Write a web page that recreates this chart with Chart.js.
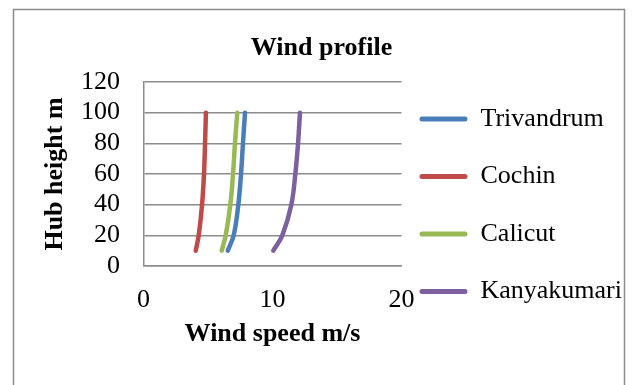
<!DOCTYPE html>
<html>
<head>
<meta charset="utf-8">
<script src="https://cdn.jsdelivr.net/npm/chart.js@4"></script>
<style>
  body { margin: 0; background: #fff; }
</style>
</head>
<body>
<canvas id="windChart" width="633" height="385"></canvas>
<script>
heights = [10, 20, 40, 60, 80, 100]

trivandrum = [6.53, 6.99, 7.35, 7.56, 7.71, 7.87]
cochin = [4.05, 4.28, 4.54, 4.69, 4.77, 4.84]
calicut = [6.06, 6.37, 6.73, 6.94, 7.09, 7.27]
kanyakumari = [10.06, 10.76, 11.46, 11.77, 11.98, 12.13]

// wind speed on x, hub height on y
function points(speeds) {
    return speeds.map((v, i) => ({ x: v, y: heights[i] }))
}

function line(label, speeds, color) {
    return {
        label: label,
        data: points(speeds),
        borderColor: color,
        backgroundColor: color,
        borderWidth: 4.5,
        borderCapStyle: 'round',
        showLine: true,
        pointRadius: 0,
        tension: 0.4
    }
}

const serif = 'Liberation Serif, Times New Roman, serif'
const gridGray = '#8c8c8c'

// outer frame around the whole chart
const frame = {
    id: 'frame',
    beforeDraw(chart) {
        const ctx = chart.ctx
        ctx.save()
        ctx.strokeStyle = gridGray
        ctx.lineWidth = 1.5
        ctx.strokeRect(13.5, 9.5, 611, 400)
        ctx.restore()
    }
}

let windChart = new Chart(document.getElementById('windChart'), {
    type: 'scatter',
    data: {
        datasets: [
            line('Trivandrum', trivandrum, '#4a7ebb'),
            line('Cochin', cochin, '#be4b48'),
            line('Calicut', calicut, '#98b954'),
            line('Kanyakumari', kanyakumari, '#7d60a0')
        ]
    },
    options: {
        responsive: false,
        animation: false,
        layout: { padding: { left: 11, right: 1, top: 0, bottom: 0 } },
        scales: {
            x: {
                min: 0,
                max: 20,
                ticks: { stepSize: 10, padding: 21.3, color: '#000', font: { family: serif, size: 26, lineHeight: 1 } },
                grid: { display: false, drawTicks: false },
                border: { display: true, color: gridGray, width: 1.5 },
                title: {
                    display: true,
                    text: 'Wind speed m/s',
                    color: '#000',
                    font: { family: serif, size: 26, weight: 'bold', lineHeight: 1 },
                    padding: { top: -13.3, bottom: 37.7 }
                }
            },
            y: {
                min: 0,
                max: 120,
                ticks: { stepSize: 20, autoSkip: false, padding: 23.5, color: '#000', font: { family: serif, size: 26 } },
                grid: { color: gridGray, lineWidth: 1.5, drawTicks: false },
                border: { display: true, color: gridGray, width: 1.5 },
                title: {
                    display: true,
                    text: 'Hub height m',
                    color: '#000',
                    font: { family: serif, size: 26, weight: 'bold' },
                    padding: { top: 28.7, bottom: -13.4 }
                }
            }
        },
        plugins: {
            tooltip: { enabled: false },
            title: {
                display: true,
                text: 'Wind profile',
                color: '#000',
                font: { family: serif, size: 26, weight: 'bold' },
                padding: { top: 33, bottom: 17.8 }
            },
            legend: {
                position: 'right',
                maxWidth: 240,
                title: { display: true, text: ' ', font: { size: 13, lineHeight: 3 }, padding: 0 },
                labels: {
                    color: '#000',
                    font: { family: serif, size: 26, lineHeight: 1.52 },
                    boxWidth: 48,
                    boxHeight: 5,
                    padding: 18,
                    useBorderRadius: true,
                    borderRadius: 2.5,
                    generateLabels: chart =>
                        Chart.defaults.plugins.legend.labels.generateLabels(chart).map(item => ({
                            ...item,
                            text: [item.text],
                            fillStyle: item.strokeStyle,
                            lineWidth: 0
                        }))
                }
            }
        }
    },
    plugins: [frame]
});
</script>
</body>
</html>
